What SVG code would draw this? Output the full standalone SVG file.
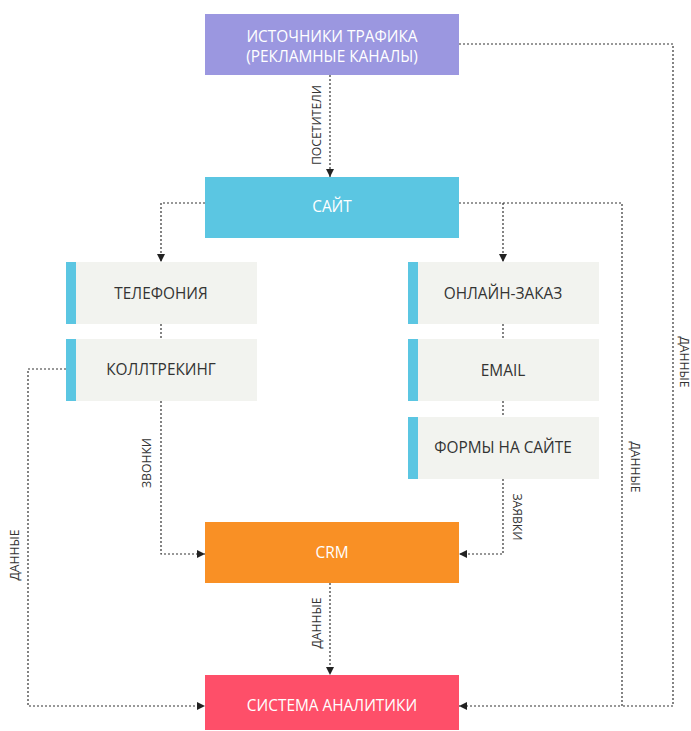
<svg xmlns="http://www.w3.org/2000/svg" width="691" height="731" viewBox="0 0 691 731">
<style>
.t{font-family:"Open Sans","Noto Sans",sans-serif;font-size:15.4px;text-anchor:middle;dominant-baseline:central}
.w{fill:#ffffff}
.d{fill:#333333}
.l{font-family:"Open Sans","Noto Sans",sans-serif;font-size:12.2px;fill:#333333;text-anchor:middle;dominant-baseline:central}
.c{fill:none;stroke:#333333;stroke-width:1.2;stroke-dasharray:2 2}
.g{fill:#f2f3ef}
.b{fill:#5bc6e2}
</style>
<defs>
<marker id="ar" viewBox="0 0 10 10" refX="10" refY="5" markerWidth="8" markerHeight="8" markerUnits="userSpaceOnUse" orient="auto">
<path d="M0,0 L10,5 L0,10 Z" fill="#222222"/>
</marker>
</defs>
<g id="connectors">
<path class="c" d="M330,75 V177" marker-end="url(#ar)"/>
<path class="c" d="M205,203 H161 V262" marker-end="url(#ar)"/>
<path class="c" d="M459,203 H503 V262"/>
<path class="c" d="M503,254 V262" marker-end="url(#ar)"/>
<path class="c" d="M503,203 H622 V706 H459" marker-end="url(#ar)"/>
<path class="c" d="M459,44 H673 V706 H622"/>
<path class="c" d="M161,324 V339"/>
<path class="c" d="M161,401 V554 H205" marker-end="url(#ar)"/>
<path class="c" d="M66,369 H28 V706 H205" marker-end="url(#ar)"/>
<path class="c" d="M503,324 V339"/>
<path class="c" d="M503,401 V417"/>
<path class="c" d="M503,479 V554 H459" marker-end="url(#ar)"/>
<path class="c" d="M330,583 V675" marker-end="url(#ar)"/>
<text class="l" transform="translate(316,125) rotate(-90)">ПОСЕТИТЕЛИ</text>
<text class="l" transform="translate(146,463) rotate(-90)">ЗВОНКИ</text>
<text class="l" transform="translate(14,555) rotate(-90)">ДАННЫЕ</text>
<text class="l" transform="translate(517,517) rotate(90)">ЗАЯВКИ</text>
<text class="l" transform="translate(635,467) rotate(90)">ДАННЫЕ</text>
<text class="l" transform="translate(684,362) rotate(90)">ДАННЫЕ</text>
<text class="l" transform="translate(316,623) rotate(-90)">ДАННЫЕ</text>
</g>
<g id="sources">
<rect x="205" y="14" width="254" height="61" fill="#9b97e0"/>
<text class="t w" x="332" y="36">ИСТОЧНИКИ ТРАФИКА</text>
<text class="t w" x="332" y="56">(РЕКЛАМНЫЕ КАНАЛЫ)</text>
</g>
<g id="site">
<rect x="205" y="177" width="254" height="61" fill="#5bc6e2"/>
<text class="t w" x="332" y="206">САЙТ</text>
</g>
<g id="telephony">
<rect class="g" x="66" y="262" width="191" height="62"/>
<rect class="b" x="66" y="262" width="10" height="62"/>
<text class="t d" x="161" y="293">ТЕЛЕФОНИЯ</text>
</g>
<g id="calltracking">
<rect class="g" x="66" y="339" width="191" height="62"/>
<rect class="b" x="66" y="339" width="10" height="62"/>
<text class="t d" x="161" y="369">КОЛЛТРЕКИНГ</text>
</g>
<g id="online-order">
<rect class="g" x="408" y="262" width="191" height="62"/>
<rect class="b" x="408" y="262" width="10" height="62"/>
<text class="t d" x="503" y="293">ОНЛАЙН-ЗАКАЗ</text>
</g>
<g id="email">
<rect class="g" x="408" y="339" width="191" height="62"/>
<rect class="b" x="408" y="339" width="10" height="62"/>
<text class="t d" x="503" y="370">EMAIL</text>
</g>
<g id="forms">
<rect class="g" x="408" y="417" width="191" height="62"/>
<rect class="b" x="408" y="417" width="10" height="62"/>
<text class="t d" x="503" y="447">ФОРМЫ НА САЙТЕ</text>
</g>
<g id="crm">
<rect x="205" y="522" width="254" height="61" fill="#f99025"/>
<text class="t w" x="332" y="552">CRM</text>
</g>
<g id="analytics">
<rect x="205" y="675" width="254" height="55" fill="#fe4f69"/>
<text class="t w" x="332" y="705">СИСТЕМА АНАЛИТИКИ</text>
</g>
</svg>
